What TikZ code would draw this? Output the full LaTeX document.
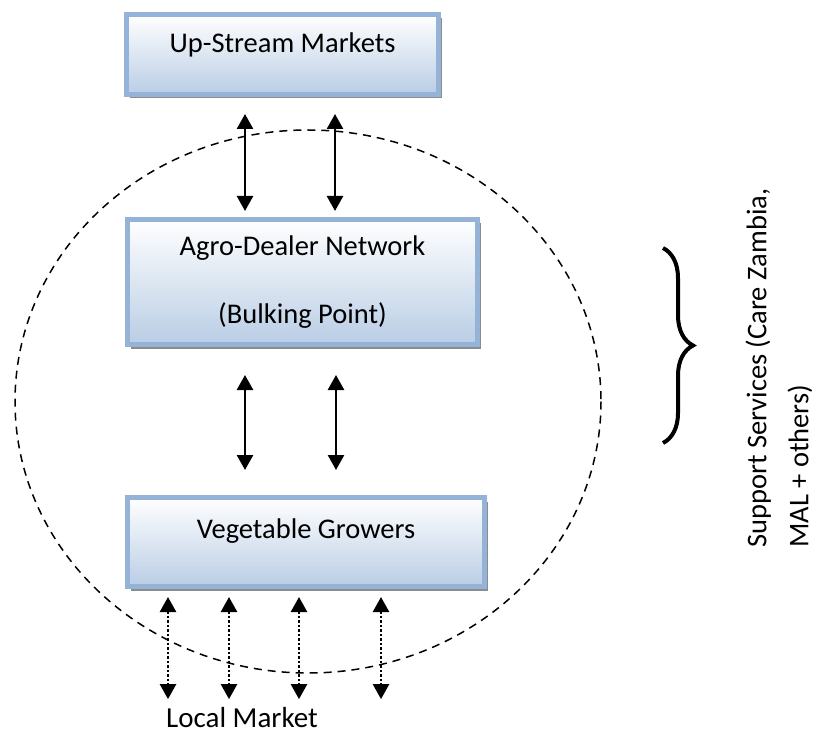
\documentclass[tikz,border=0pt]{standalone}
\usepackage{fontspec}
\setmainfont{Carlito}
\usetikzlibrary{arrows.meta,shadows,decorations.pathreplacing}
\definecolor{boxline}{HTML}{95B3D7}
\definecolor{boxfill}{HTML}{B9CDE5}
\tikzstyle{node_box} = [rectangle, draw=boxline, line width=5pt, top color=white, bottom color=boxfill, drop shadow={shadow xshift=3pt, shadow yshift=-4pt, fill=black!45, opacity=1}, inner sep=0pt, align=center, font=\fontsize{28.5}{68}\selectfont]
\tikzstyle{node_text} = [inner sep=0pt, font=\fontsize{28.5}{42}\selectfont]
\tikzstyle{edge_solid} = [{Triangle[length=15pt,width=16pt]}-{Triangle[length=15pt,width=16pt]}, line width=2.5pt]
\tikzstyle{edge_dotted} = [edge_solid, dotted]
\tikzstyle{edge_circle} = [line width=1.5pt, dash pattern=on 8pt off 6pt]

\begin{document}
\begin{tikzpicture}[x=1pt,y=-1pt]
			\useasboundingbox (0,0) rectangle (819,735);
			\draw[edge_circle] (308,401.5) ellipse [x radius=293, y radius=271.5];
			\node (up) at (282.5,54.5) [node_box, minimum width=312pt, minimum height=80pt, text height=19pt, text depth=22pt] {Up-Stream Markets};
			\node (agro) at (302.5,282) [node_box, minimum width=350pt, minimum height=125pt] {Agro-Dealer Network\\(Bulking Point)};
			\node (veg) at (306,542) [node_box, minimum width=357pt, minimum height=89pt, text height=19pt, text depth=27pt] {Vegetable Growers};
			\node (market) at (242,717.5) [node_text, font=\fontsize{29}{34}\selectfont] {Local Market};
			\node (support) at (779,548) [node_text, rotate=90, anchor=west, align=left] {Support Services (Care Zambia,\\MAL + others)};
			\draw[edge_solid, shorten <=17pt, shorten >=6pt] (up.south -| 245,0) -- (agro.north -| 245,0);
			\draw[edge_solid, shorten <=17pt, shorten >=6pt] (up.south -| 335,0) -- (agro.north -| 335,0);
			\draw[edge_solid, shorten <=28pt, shorten >=25pt] (agro.south -| 245,0) -- (veg.north -| 245,0);
			\draw[edge_solid, shorten <=28pt, shorten >=25pt] (agro.south -| 336,0) -- (veg.north -| 336,0);
			\foreach \x in {168,229,299,381}
				\draw[edge_dotted, shorten <=8pt, shorten >=8pt] (veg.south -| \x,0) -- (market.north -| \x,0);
			\coordinate (brace_top) at (663,248);
			\coordinate (brace_bot) at (663,443);
			\draw[line width=4pt, decorate, decoration={brace, amplitude=30pt}] (brace_top) -- (brace_bot);
		\end{tikzpicture}
\end{document}
